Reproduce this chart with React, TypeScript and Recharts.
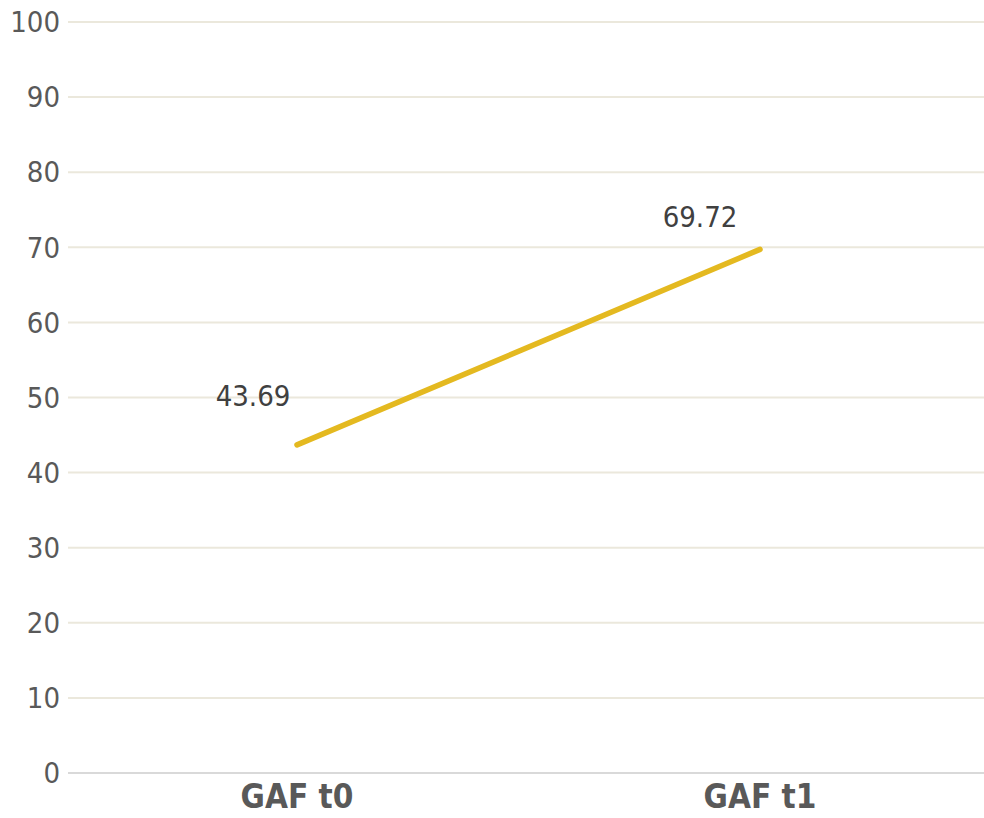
import { LineChart, Line, XAxis, YAxis, CartesianGrid, LabelList } from "recharts";

const categories = ["GAF t0", "GAF t1"];
const gafScores = [43.69, 69.72];
const yTicks = [0, 10, 20, 30, 40, 50, 60, 70, 80, 90, 100];

const data = categories.map((name, i) => ({ name, value: gafScores[i] }));

const FONT = "'DejaVu Sans Condensed', 'DejaVu Sans', sans-serif";

// label offsets from each point (label sits up and to the left)
const labelShift = [
  { dx: -44, dy: -49 },
  { dx: -60, dy: -32 },
];

const ValueLabel = (props: any) => {
  const { x, y, value, index } = props;
  const s = labelShift[index] || { dx: 0, dy: -20 };
  return (
    <text
      x={x + s.dx}
      y={y + s.dy}
      textAnchor="middle"
      dominantBaseline="central"
      fill="#404040"
      fontSize={29}
      fontFamily={FONT}
    >
      {value}
    </text>
  );
};

export default function App() {
  return (
    <div style={{ position: "absolute", left: 0, top: 0, background: "#fff" }}>
      <LineChart
        width={984}
        height={818}
        data={data}
        margin={{ top: 22, right: 0, bottom: 0, left: 0 }}
      >
        <CartesianGrid vertical={false} stroke="#ebe8dc" strokeWidth={2} />
        <XAxis
          dataKey="name"
          height={45}
          padding={{ left: 229, right: 224 }}
          axisLine={{ stroke: "#d9d9d9", strokeWidth: 2 }}
          tickLine={false}
          tickSize={0}
          tickMargin={12}
          tick={{ fill: "#595959", fontSize: 33, fontWeight: "bold", fontFamily: FONT }}
        />
        <YAxis
          width={68}
          domain={[0, 100]}
          ticks={yTicks}
          axisLine={false}
          tickLine={false}
          tickSize={0}
          tickMargin={8}
          tick={{ fill: "#595959", fontSize: 29, fontFamily: FONT }}
        />
        <Line
          dataKey="value"
          stroke="#e4b920"
          strokeWidth={5.5}
          strokeLinecap="round"
          dot={false}
          activeDot={false}
          isAnimationActive={false}
        >
          <LabelList dataKey="value" content={<ValueLabel />} />
        </Line>
      </LineChart>
    </div>
  );
}
